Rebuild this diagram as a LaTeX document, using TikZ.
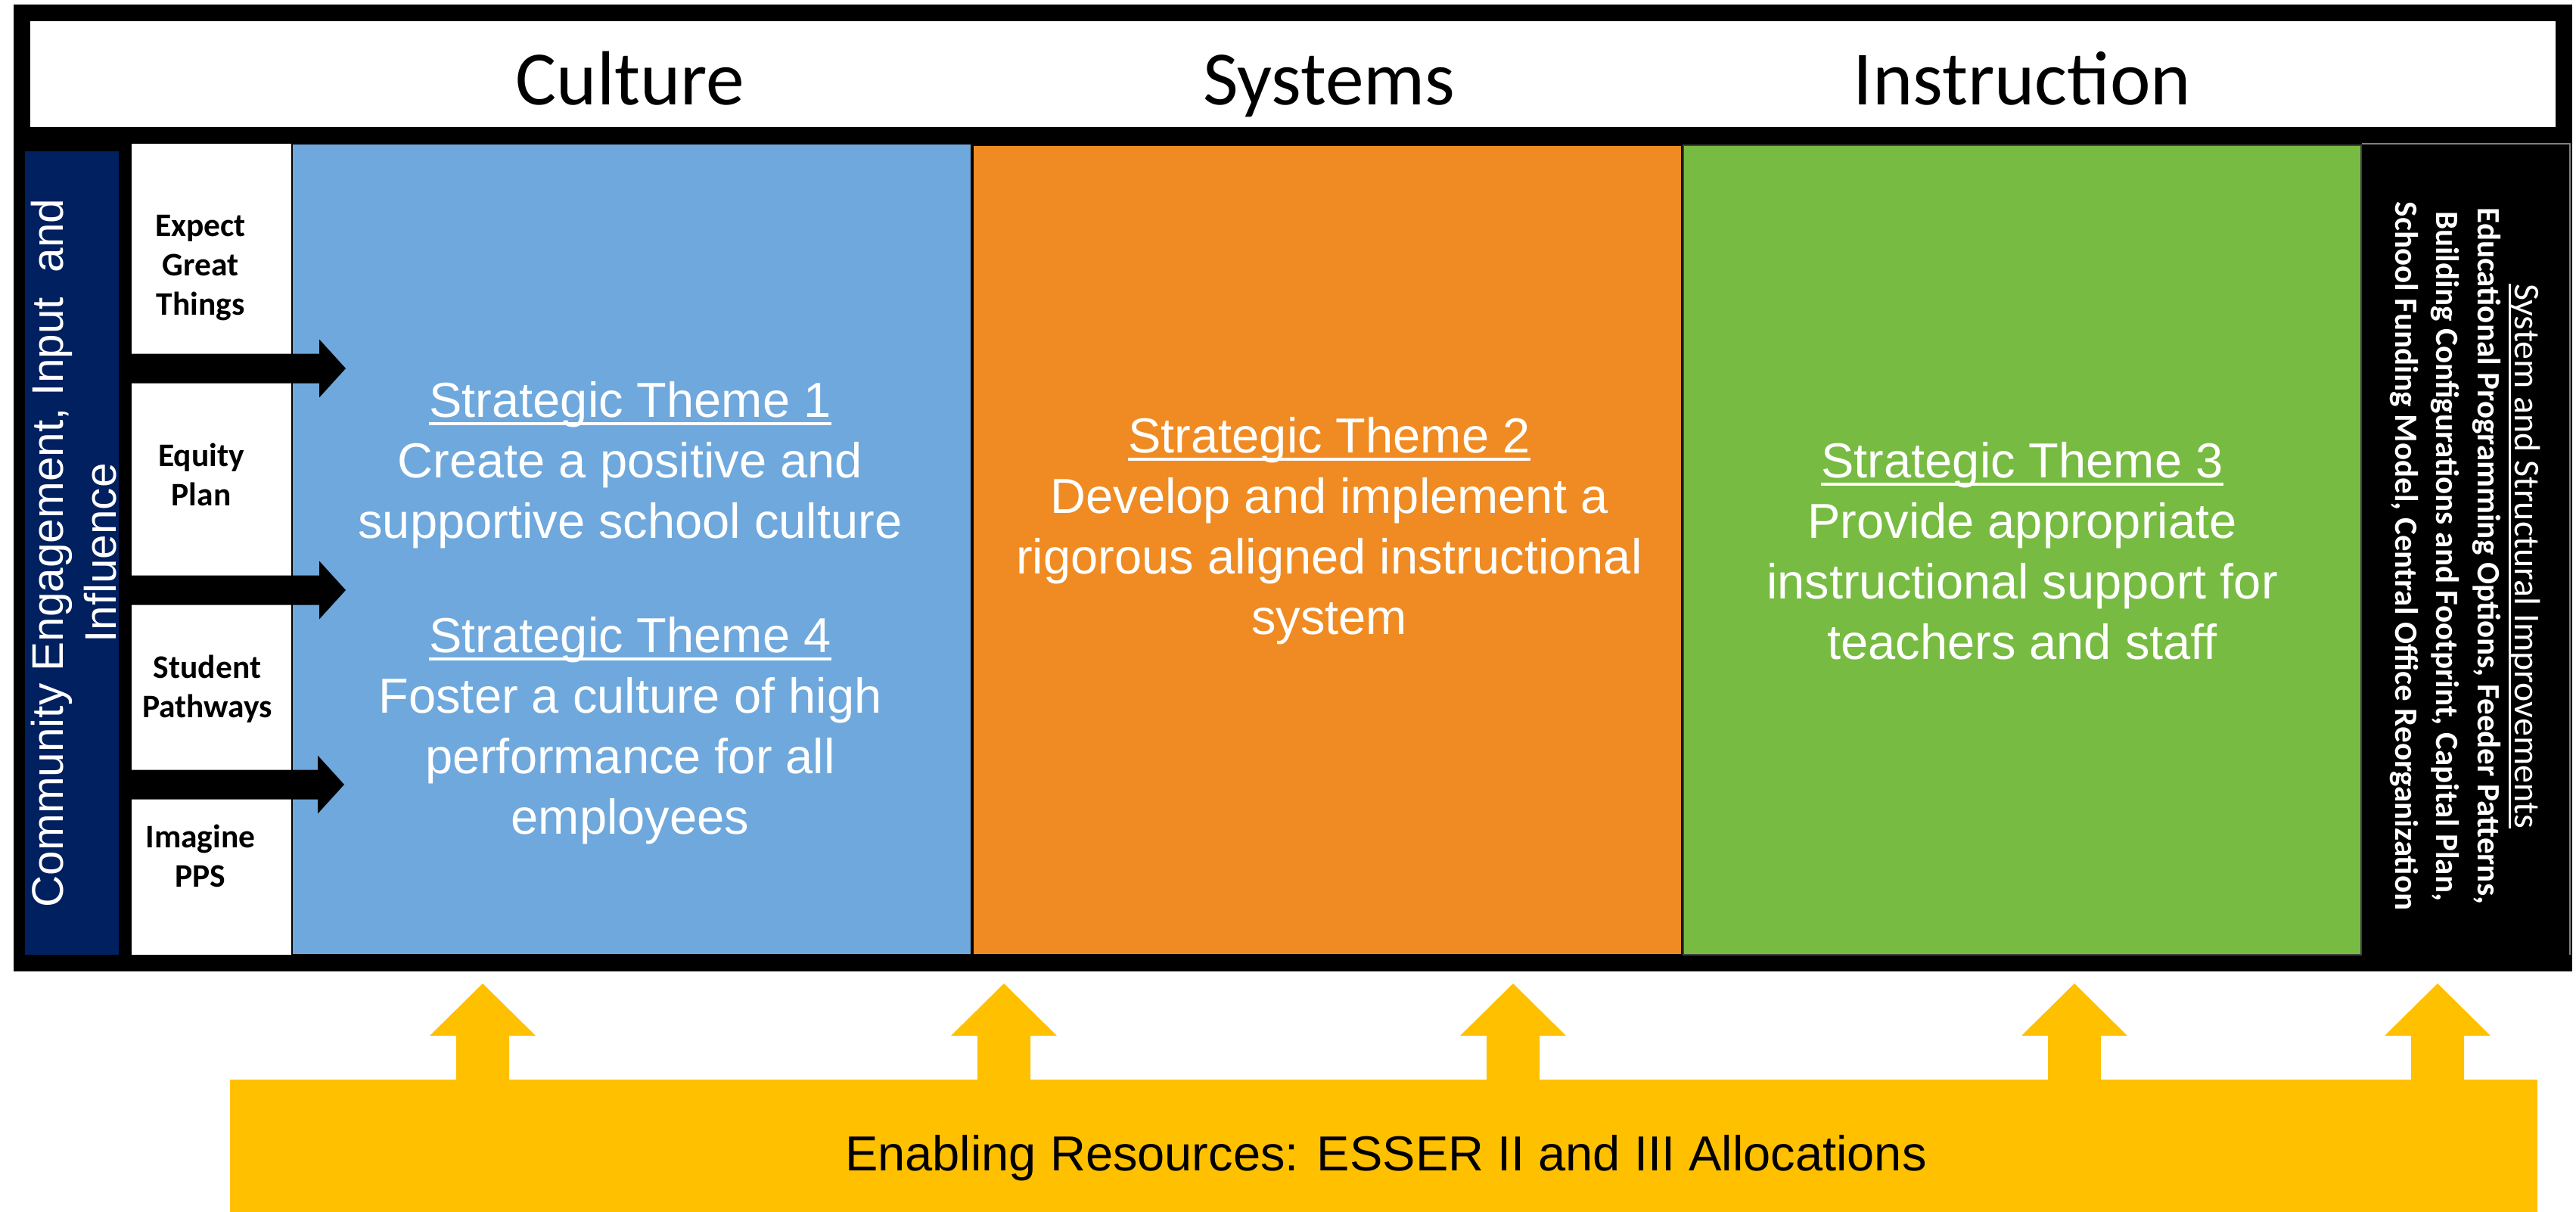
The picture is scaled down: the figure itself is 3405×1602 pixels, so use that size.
\documentclass[tikz,border=0pt]{standalone}
\usepackage{fontspec}
\setmainfont{Liberation Sans}
\newfontfamily\calibri{Carlito}
\definecolor{navyC}{HTML}{002060}
\definecolor{blueC}{HTML}{6FA8DC}
\definecolor{orangeC}{HTML}{EF8B22}
\definecolor{greenC}{HTML}{77BB42}
\definecolor{yellowC}{HTML}{FFC000}
\newcommand\ulx[1]{\leavevmode\setbox0=\hbox{#1}\rlap{\rule[-0.17em]{\wd0}{0.06em}}\box0}
\newcommand\tstack[1]{\begin{tabular}[t]{@{}c@{}}#1\end{tabular}}
\begin{document}
\begin{tikzpicture}[x=0.2pt,y=-0.2pt,
  every node/.style={inner sep=0pt,outer sep=0pt},
  headtext/.style={anchor=base,font=\calibri\fontsize{20.3}{24}\selectfont},
  sidetext/.style={anchor=base,font=\calibri\bfseries\fontsize{8.7}{10.4}\selectfont},
  themetext/.style={anchor=base,text=white,font=\fontsize{13}{16}\selectfont},
  colbox/.style={line width=0.5pt,draw=black},
  blkarrow/.pic={\fill[black] (0,-19.5) -- (249,-19.5) -- (249,-38.5) -- (284,0) -- (249,38.5) -- (249,19.5) -- (0,19.5) -- cycle;},
  yelarrow/.pic={\fill[yellowC] (-35,3) -- (-35,-58) -- (-70,-58) -- (0,-127) -- (70,-58) -- (35,-58) -- (35,3) -- cycle;}
]
\useasboundingbox (0,0) rectangle (3405,1602);
% frame and header
\fill[black] (18,6) rectangle (3400,1284);
\fill[white] (40,28) rectangle (3378,168);
% columns
\fill[navyC] (33,200) rectangle (157,1262);
\fill[white] (174,190) rectangle (386,1262);
\filldraw[colbox,fill=blueC] (386,190) rectangle (1284,1262);
\filldraw[colbox,fill=orangeC] (1286,192) rectangle (2223,1262);
\filldraw[colbox,fill=greenC,draw=black!75] (2225,192) rectangle (3121,1262);
\draw[gray,line width=0.4pt] (3122,190) -- (3397,190) -- (3397,1262);
% black arrows
\pic at (173,487) {blkarrow};
\pic at (173,780) {blkarrow};
\pic at (171,1037) {blkarrow};
% yellow bar and arrows
\fill[yellowC] (304,1427) rectangle (3354,1602);
\foreach \cx in {638,1327,2000,2742,3222} { \pic at (\cx,1427) {yelarrow}; }
% header texts
\node[headtext] (culture) at (833,138) {Culture};
\node[headtext] (systems) at (1757,138) {Systems};
\node[headtext] (instruction) at (2673,138) {Instruction};
% navy vertical text
\node[anchor=base,rotate=90,text=white,font=\fontsize{11.7}{14}\selectfont] (community) at (83,731)
  {\tstack{Community Engagement, Input~~and\\Influence}};
% side labels
\node[sidetext] (expect) at (265,312) {\tstack{Expect\\Great\\Things}};
\node[sidetext] (equity) at (266,616) {\tstack{Equity\\Plan}};
\node[sidetext] (student) at (274,896) {\tstack{Student\\Pathways}};
\node[sidetext] (imagine) at (265,1120) {\tstack{Imagine\\PPS}};
% themes
\node[themetext] (theme1) at (833,551) {\tstack{\ulx{Strategic Theme 1}\\Create a positive and\\supportive school culture}};
\node[themetext] (theme4) at (833,862) {\tstack{\ulx{Strategic Theme 4}\\Foster a culture of high\\performance for all\\employees}};
\node[themetext] (theme2) at (1757,598) {\tstack{\ulx{Strategic Theme 2}\\Develop and implement a\\rigorous aligned instructional\\system}};
\node[themetext] (theme3) at (2673,631) {\tstack{\ulx{Strategic Theme 3}\\Provide appropriate\\instructional support for\\teachers and staff}};
% right panel vertical text
\node[anchor=base,rotate=-90,text=white,font=\calibri\bfseries\fontsize{8.6}{9.8}\selectfont] (system) at (3324,735)
  {\tstack{{\mdseries\fontsize{9.6}{9.8}\selectfont\ulx{System and Structural Improvements}}\\
   Educational Programming Options, Feeder Patterns,\\[1.1pt]
   Building Configurations and Footprint, Capital Plan,\\[1.1pt]
   School Funding Model, Central Office Reorganization}};
% bottom text
\node[anchor=base,font=\fontsize{13}{16}\selectfont] (enabling) at (1832,1547) {Enabling Resources: ESSER II and III Allocations};
\end{tikzpicture}
\end{document}
